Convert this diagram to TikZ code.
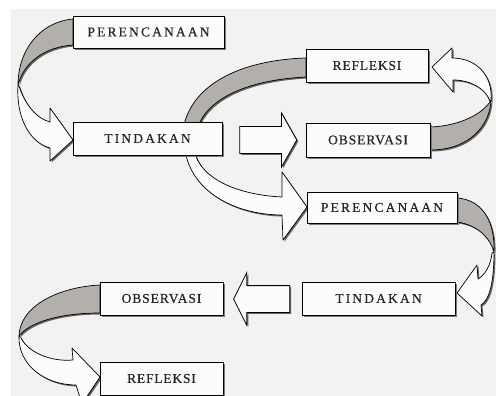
\documentclass[tikz,border=0pt]{standalone}
\usepackage{fontspec}
\setmainfont{Liberation Serif}
\usetikzlibrary{shapes.arrows,shadows}
\definecolor{bgc}{HTML}{F2F2F2}
\definecolor{bandc}{HTML}{B3AFAB}
\definecolor{boxc}{HTML}{FCFCFC}
\definecolor{shadc}{HTML}{7A7A7A}
\definecolor{txtc}{HTML}{262626}
\newcommand\lbl[2]{{\addfontfeature{LetterSpace=#1,FakeBold=0.5}#2}}
\def\bandA{(73,19) .. controls (40,22) and (18,50) .. (18,85) .. controls (24,62) and (45,47) .. (73,45) -- cycle}
\def\frontA{(18,85) .. controls (16,115) and (28,142) .. (50,148) -- (50,161) -- (73,140) -- (50,108) -- (50,122) .. controls (35,118) and (24,102) .. (19,86) -- cycle}
\def\bandB{(430,150) .. controls (470,150) and (490,125) .. (491,100) .. controls (485,112) and (462,126) .. (430,127) -- cycle}
\def\frontB{(491,100) .. controls (493,75) and (476,58) .. (452,58) -- (452,48) -- (432,67) -- (453,92) -- (453,80) .. controls (470,80) and (485,88) .. (490,101) -- cycle}
\def\bandC{(457,198) .. controls (485,200) and (495,225) .. (494,252) .. controls (490,238) and (478,225) .. (457,222) -- cycle}
\def\frontC{(494,252) .. controls (494,280) and (490,300) .. (481,305) -- (482,316) -- (457,293) -- (477,265) -- (478,279) .. controls (485,275) and (491,265) .. (492,253) -- cycle}
\def\bandD{(100,285) .. controls (60,287) and (20,305) .. (19,336) .. controls (30,322) and (60,313) .. (100,313) -- cycle}
\def\frontD{(19,336) .. controls (18,365) and (45,385) .. (76,385) -- (82,404) -- (100,377) -- (72,348) -- (73,360) .. controls (50,362) and (28,352) .. (21,338) -- cycle}
\def\bandE{(306,58) .. controls (240,60) and (190,85) .. (183,130) -- (197,130) .. controls (205,100) and (245,80) .. (306,77) -- cycle}
\def\frontE{(185,150) .. controls (192,195) and (240,215) .. (282,215) -- (283,240) -- (307,207) -- (282,172) -- (282,197) .. controls (240,195) and (200,180) .. (194,150) -- cycle}
\begin{document}
\begin{tikzpicture}[x=1pt,y=-1pt,
  stepbox/.style={draw=black, line width=0.8pt, fill=boxc, inner sep=0pt,
    text=txtc, font=\fontsize{13.5}{13.5}\selectfont,
    drop shadow={shadow xshift=2pt, shadow yshift=-2pt, fill=shadc, opacity=1}},
  band/.style={fill=bandc, draw=black, line width=0.7pt, line join=round},
  front/.style={fill=boxc, draw=black, line width=0.7pt, line join=round},
  shade/.style={fill=black!60, draw=none, shift={(1.5,1.5)}},
  blockarrow/.style={single arrow, draw=black, line width=0.8pt, fill=boxc,
    inner xsep=0pt, inner ysep=13pt,
    drop shadow={shadow xshift=1.5pt, shadow yshift=-1.5pt, fill=black!60, opacity=1}}]
\useasboundingbox (0,0) rectangle (496,396);
\clip (0,0) rectangle (496,396);
\fill[white] (0,0) rectangle (496,396);
\fill[bgc] (11,9) rectangle (496,396);
% ribbon shadows
\fill[shade] \bandA; \fill[shade] \frontA;
\fill[shade] \bandB; \fill[shade] \frontB;
\fill[shade] \bandC; \fill[shade] \frontC;
\fill[shade] \bandD; \fill[shade] \frontD;
\fill[shade] \bandE; \fill[shade] \frontE;
% ribbons
\filldraw[band] \bandA; \filldraw[front] \frontA;
\filldraw[band] \bandB; \filldraw[front] \frontB;
\filldraw[band] \bandC; \filldraw[front] \frontC;
\filldraw[band] \bandD; \filldraw[front] \frontD;
\filldraw[band] \bandE; \filldraw[front] \frontE;
% straight block arrows
\node[blockarrow, minimum height=57pt, single arrow head extend=13.5pt,
  single arrow tip angle=121] (ar1) at (264.5,140) {};
\node[blockarrow, minimum height=56pt, single arrow head extend=13pt,
  single arrow tip angle=127, shape border rotate=180] (ar2) at (265,299) {};
% boxes
\node[stepbox, minimum width=151pt, minimum height=32pt] (p1) at (148.5,32) {\lbl{16}{PERENCANAAN}};
\node[stepbox, minimum width=149pt, minimum height=33pt] (t1) at (147.5,138.5) {\lbl{16}{TINDAKAN}};
\node[stepbox, minimum width=122pt, minimum height=33pt] (r1) at (367,65.5) {\lbl{6}{REFLEKSI}};
\node[stepbox, minimum width=124pt, minimum height=34pt] (o1) at (368,140) {\lbl{7}{OBSERVASI}};
\node[stepbox, minimum width=150pt, minimum height=31pt] (p2) at (382,207.5) {\lbl{16}{PERENCANAAN}};
\node[stepbox, minimum width=153pt, minimum height=33pt] (t2) at (378.5,298.5) {\lbl{16}{TINDAKAN}};
\node[stepbox, minimum width=123pt, minimum height=33pt] (o2) at (161.5,298.5) {\lbl{7}{OBSERVASI}};
\node[stepbox, minimum width=123pt, minimum height=33pt] (r2) at (161.5,378.5) {\lbl{6}{REFLEKSI}};
\end{tikzpicture}
\end{document}
